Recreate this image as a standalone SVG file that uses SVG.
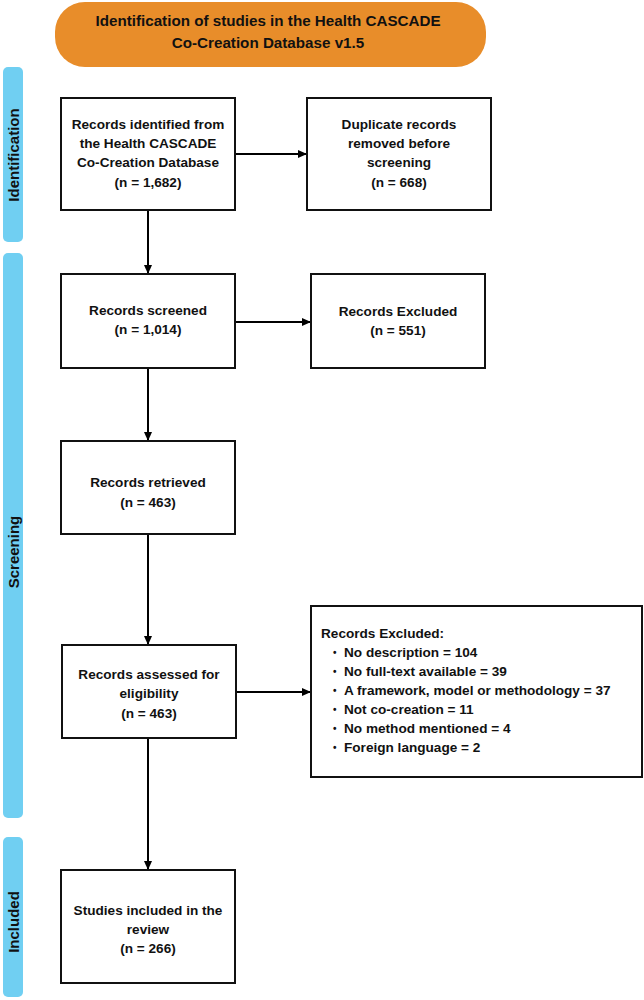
<svg xmlns="http://www.w3.org/2000/svg" width="644" height="1000" viewBox="0 0 644 1000">
<defs>
<marker id="ah" markerUnits="userSpaceOnUse" markerWidth="10" markerHeight="10" refX="9" refY="5" orient="auto">
<path d="M0,1 L9,5 L0,9 Z" fill="#000"/>
</marker>
<style>
text{font-family:"Liberation Sans",Arial,sans-serif;font-weight:bold;fill:#111;}
.t{font-size:13.6px;text-anchor:middle;}
.l{font-size:13.6px;}
.d{font-size:10px;}
.b{font-size:15.2px;text-anchor:middle;}
.s{font-size:15px;text-anchor:middle;}
.box{fill:#fff;stroke:#111;stroke-width:2;}
.bar{fill:#70CFF2;}
.c{stroke:#000;stroke-width:2;fill:none;marker-end:url(#ah);}
</style>
</defs>
<rect width="644" height="1000" fill="#fff"/>
<g id="banner">
<rect x="55" y="2" width="431" height="65" rx="30" ry="30" fill="#E88D2A"/>
<text class="b" x="268" y="25.5">Identification of studies in the Health CASCADE</text>
<text class="b" x="268" y="47.5">Co-Creation Database v1.5</text>
</g>
<g id="stage-identification">
<rect class="bar" x="3" y="67" width="20" height="175" rx="5"/>
<text class="s" transform="translate(18.5,155) rotate(-90)">Identification</text>
</g>
<g id="stage-screening">
<rect class="bar" x="3" y="253" width="20" height="565" rx="5"/>
<text class="s" transform="translate(18.5,552) rotate(-90)">Screening</text>
</g>
<g id="stage-included">
<rect class="bar" x="3" y="837" width="20" height="160" rx="5"/>
<text class="s" transform="translate(18.5,922) rotate(-90)">Included</text>
</g>
<g id="connectors">
<line class="c" x1="235" y1="154" x2="307" y2="154"/>
<line class="c" x1="148" y1="210" x2="148" y2="274"/>
<line class="c" x1="235" y1="322" x2="311" y2="322"/>
<line class="c" x1="148" y1="368" x2="148" y2="441"/>
<line class="c" x1="148" y1="534" x2="148" y2="645"/>
<line class="c" x1="236" y1="692" x2="311" y2="692"/>
<line class="c" x1="148" y1="738" x2="148" y2="870"/>
</g>
<g id="records-identified">
<rect class="box" x="61" y="98" width="174" height="112"/>
<text class="t" x="148" y="129">Records identified from</text>
<text class="t" x="148" y="148">the Health CASCADE</text>
<text class="t" x="148" y="167">Co-Creation Database</text>
<text class="t" x="148" y="187">(n = 1,682)</text>
</g>
<g id="duplicates-removed">
<rect class="box" x="307" y="98" width="184" height="112"/>
<text class="t" x="399" y="129">Duplicate records</text>
<text class="t" x="399" y="148">removed before</text>
<text class="t" x="399" y="167">screening</text>
<text class="t" x="399" y="187">(n = 668)</text>
</g>
<g id="records-screened">
<rect class="box" x="61" y="274" width="174" height="94"/>
<text class="t" x="148" y="315">Records screened</text>
<text class="t" x="148" y="334">(n = 1,014)</text>
</g>
<g id="records-excluded-1">
<rect class="box" x="311" y="274" width="174" height="94"/>
<text class="t" x="398" y="316">Records Excluded</text>
<text class="t" x="398" y="335">(n = 551)</text>
</g>
<g id="records-retrieved">
<rect class="box" x="61" y="441" width="174" height="93"/>
<text class="t" x="148" y="487">Records retrieved</text>
<text class="t" x="148" y="507">(n = 463)</text>
</g>
<g id="records-assessed">
<rect class="box" x="62" y="645" width="174" height="93"/>
<text class="t" x="149" y="679">Records assessed for</text>
<text class="t" x="149" y="698">eligibility</text>
<text class="t" x="149" y="718">(n = 463)</text>
</g>
<g id="records-excluded-2">
<rect class="box" x="311" y="606" width="331" height="171"/>
<text class="l" x="321" y="638">Records Excluded:</text>
<text class="d" x="333" y="656">•</text><text class="l" x="344" y="657">No description = 104</text>
<text class="d" x="333" y="675">•</text><text class="l" x="344" y="676">No full-text available = 39</text>
<text class="d" x="333" y="694">•</text><text class="l" x="344" y="695">A framework, model or methodology = 37</text>
<text class="d" x="333" y="713">•</text><text class="l" x="344" y="714">Not co-creation = 11</text>
<text class="d" x="333" y="732">•</text><text class="l" x="344" y="733">No method mentioned = 4</text>
<text class="d" x="333" y="751">•</text><text class="l" x="344" y="752">Foreign language = 2</text>
</g>
<g id="studies-included">
<rect class="box" x="61" y="870" width="174" height="113"/>
<text class="t" x="148" y="915">Studies included in the</text>
<text class="t" x="148" y="934">review</text>
<text class="t" x="148" y="953">(n = 266)</text>
</g>
</svg>
